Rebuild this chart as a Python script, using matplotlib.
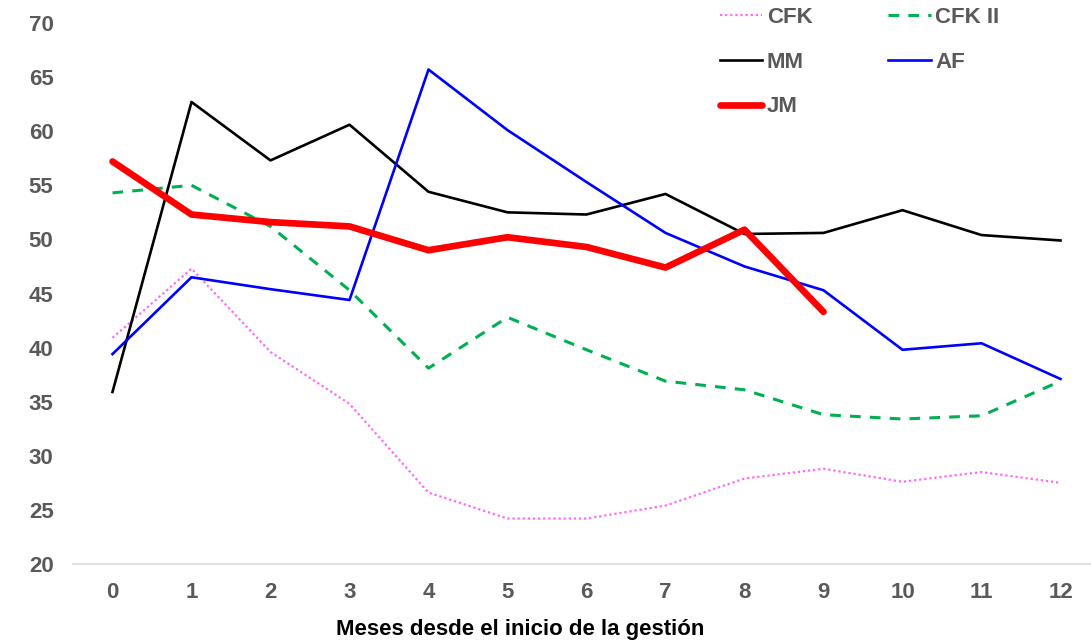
import matplotlib
matplotlib.use("Agg")
import matplotlib.pyplot as plt

# Meses desde el inicio de la gestion
meses = list(range(13))

# Series
cfk = [40.9, 47.3, 39.6, 34.8, 26.6, 24.2, 24.2, 25.4, 27.9, 28.8, 27.6, 28.5, 27.5]
cfk_ii = [54.3, 55.0, 51.2, 45.3, 38.1, 42.8, 39.8, 36.9, 36.1, 33.8, 33.4, 33.7, 36.9]
mm = [35.9, 62.7, 57.3, 60.6, 54.4, 52.5, 52.3, 54.2, 50.5, 50.6, 52.7, 50.4, 49.9]
af = [39.4, 46.5, 45.4, 44.4, 65.7, 60.1, 55.3, 50.6, 47.5, 45.3, 39.8, 40.4, 37.1]
jm = [57.2, 52.3, 51.6, 51.2, 49.0, 50.2, 49.3, 47.4, 50.9, 43.3]

y_ticks = [20, 25, 30, 35, 40, 45, 50, 55, 60, 65, 70]
x_title = "Meses desde el inicio de la gestión"

plt.rcParams['font.family'] = ['Liberation Sans', 'DejaVu Sans']
plt.rcParams['font.weight'] = 'bold'

W, H = 1091, 641
fig = plt.figure(figsize=(W / 100, H / 100), dpi=100)
# plot area: x from -0.5 (px 73) to 12.5 (px ~1100), y 20 (px 564) to 70 (px 23)
ax = fig.add_axes([73 / W, (H - 564) / H, 1027 / W, 541 / H])

line_cfk, = ax.plot(meses, cfk, color='#FF66FF', lw=1.6, ls=(0, (1, 1.3)), label='CFK')
line_cfk2, = ax.plot(meses, cfk_ii, color='#00B050', lw=2.2, ls=(0, (3.5, 3)), label='CFK II')
line_mm, = ax.plot(meses, mm, color='black', lw=1.9, label='MM')
line_af, = ax.plot(meses, af, color='#0000FF', lw=1.9, label='AF')
line_jm, = ax.plot(meses[:len(jm)], jm, color='#FF0000', lw=4.8,
                   solid_capstyle='round', label='JM')

ax.set_xlim(-0.5, 12.5)
ax.set_ylim(20, 70)
ax.set_xticks(meses)
ax.set_yticks(y_ticks)
ax.tick_params(length=0, labelsize=16, labelcolor='#595959')
ax.tick_params(axis='y', pad=14)
ax.tick_params(axis='x', pad=13)
for lab in ax.get_xticklabels() + ax.get_yticklabels():
    lab.set_fontweight('bold')

for side in ['top', 'right', 'left']:
    ax.spines[side].set_visible(False)
ax.spines['bottom'].set_color('#D9D9D9')
ax.spines['bottom'].set_linewidth(1.2)

fig.text(520 / W, 1 - 630 / H, x_title, ha='center', va='center',
         fontsize=16, fontweight='bold', color='black')

handles = [line_cfk, line_mm, line_jm, line_cfk2, line_af]
leg = fig.legend(handles=handles, labels=[h.get_label() for h in handles],
                 ncol=2, loc='upper left', bbox_to_anchor=(711 / W, 1 + 2 / H),
                 frameon=False, fontsize=16, handlelength=1.9, handletextpad=0.22,
                 columnspacing=3.4, labelspacing=1.07, borderaxespad=0)
for t in leg.get_texts():
    t.set_color('#595959')
    t.set_fontweight('bold')

fig.savefig('out.png', dpi=100)
